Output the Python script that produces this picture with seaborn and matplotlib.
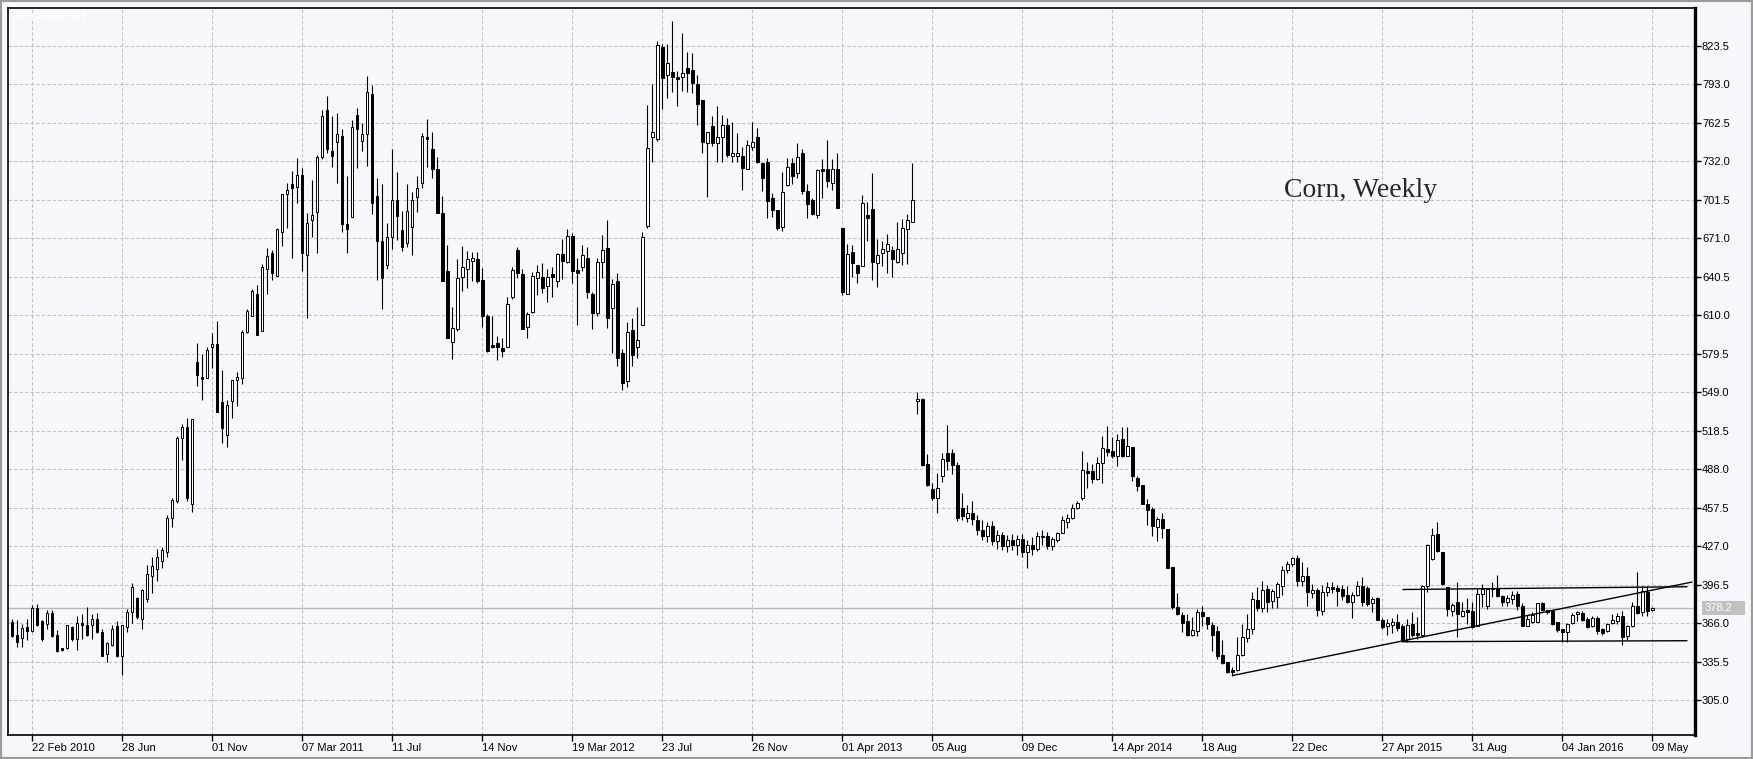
import numpy as np
import pandas as pd
import matplotlib
matplotlib.use("Agg")
import matplotlib.pyplot as plt
import matplotlib.transforms as mtransforms
from matplotlib.patches import Rectangle
import seaborn as sns

# weekly corn candles, first bar is the week of 25 Jan 2010, last 09 May 2016
first_week = "2010-01-25"

opens = [
    366.5, 356.5, 353.8, 362.5, 359.8, 377.7, 367.7, 365.1, 373.7, 356.5,
    346.2, 346.5, 363.0, 353.3, 365.9, 364.3, 364.3, 369.0, 359.0, 341.5,
    348.9, 363.8, 339.6, 362.5, 375.0, 386.0, 369.0, 385.2, 403.6, 409.0,
    415.0, 422.0, 449.4, 462.6, 512.8, 521.6, 460.5, 573.1, 561.2, 560.4,
    585.0, 587.4, 541.4, 515.2, 541.9, 558.8, 560.4, 596.6, 609.3, 626.5,
    597.4, 646.8, 659.1, 641.4, 676.3, 705.9, 713.8, 712.0, 721.2, 657.8,
    685.5, 692.1, 735.2, 772.8, 740.2, 747.6, 752.1, 682.4, 688.2, 768.8,
    748.4, 753.5, 785.4, 704.6, 668.9, 649.9, 671.8, 701.4, 677.6, 667.6,
    680.2, 703.5, 714.6, 751.1, 741.8, 725.7, 690.8, 645.1, 589.1, 598.8,
    640.6, 646.4, 653.3, 654.4, 638.0, 609.4, 586.4, 587.7, 583.8, 585.1,
    624.2, 661.7, 642.5, 600.5, 612.9, 639.3, 640.7, 633.5, 642.5, 637.5,
    658.6, 652.6, 672.9, 645.9, 648.6, 655.2, 626.9, 612.1, 652.0, 663.1,
    615.6, 637.5, 580.0, 558.0, 598.4, 584.6, 602.3, 680.8, 751.1, 749.5,
    822.5, 800.6, 802.7, 798.7, 798.7, 805.9, 804.5, 793.4, 780.7, 746.4,
    760.1, 746.4, 751.1, 760.9, 736.3, 736.6, 736.3, 725.8, 743.7, 751.1,
    730.5, 731.3, 702.8, 693.5, 679.8, 713.4, 730.5, 723.1, 738.5, 708.6,
    701.2, 689.6, 725.8, 726.3, 715.2, 725.8, 679.0, 627.2, 660.5, 649.7,
    649.1, 689.3, 694.1, 651.8, 659.1, 661.0, 661.6, 652.3, 659.7, 678.7,
    684.0, 542.1, 544.0, 491.9, 472.6, 465.5, 482.6, 501.1, 501.1, 491.1,
    457.5, 449.6, 453.0, 448.0, 440.0, 435.0, 443.0, 431.0, 436.0, 427.0,
    432.0, 428.0, 433.0, 422.0, 428.0, 425.0, 435.0, 434.8, 427.4, 432.2,
    437.5, 446.0, 449.1, 457.0, 465.2, 486.6, 486.4, 480.3, 492.7, 503.8,
    502.5, 498.3, 512.0, 498.8, 505.4, 481.1, 475.5, 460.5, 456.5, 442.0,
    448.6, 440.6, 410.2, 378.5, 372.4, 368.0, 356.9, 360.0, 374.6, 370.6,
    364.5, 360.0, 340.7, 335.4, 328.8, 329.1, 340.7, 353.9, 361.4, 384.3,
    377.7, 393.0, 383.8, 386.5, 395.2, 408.1, 412.9, 417.4, 399.1, 403.6,
    389.9, 392.5, 375.8, 390.9, 394.3, 393.5, 393.0, 388.2, 382.4, 388.2,
    395.6, 393.5, 381.9, 385.6, 368.7, 363.4, 364.5, 367.1, 363.9, 353.4,
    365.2, 358.1, 356.5, 395.6, 416.8, 436.6, 422.1, 394.3, 375.8, 382.4,
    371.8, 376.6, 375.8, 363.9, 389.0, 379.3, 393.5, 393.5, 387.2, 382.9,
    385.1, 389.0, 379.3, 363.9, 367.1, 367.1, 381.9, 376.6, 375.8, 366.6,
    361.2, 359.2, 366.0, 373.2, 374.0, 369.2, 363.4, 369.7, 361.2, 360.0,
    366.0, 367.9, 371.8, 355.5, 363.9, 379.3, 374.5, 390.9, 376.0,
]

highs = [
    369.5, 368.2, 365.0, 369.0, 380.0, 380.8, 368.5, 376.3, 376.3, 360.6,
    346.6, 364.8, 363.8, 371.6, 372.9, 379.0, 372.9, 373.7, 361.2, 350.7,
    364.3, 367.7, 364.3, 377.4, 397.8, 386.8, 393.1, 412.0, 418.0, 425.0,
    426.0, 451.5, 465.3, 514.0, 524.2, 528.7, 527.9, 588.2, 579.7, 585.0,
    595.6, 605.3, 567.0, 543.2, 559.1, 565.2, 598.7, 614.6, 630.5, 634.4,
    650.3, 663.0, 661.7, 679.5, 705.9, 714.6, 724.4, 734.4, 726.5, 690.8,
    717.3, 737.1, 772.8, 783.9, 768.0, 770.6, 757.4, 720.4, 764.8, 774.1,
    762.2, 799.7, 792.6, 718.6, 714.1, 683.4, 741.6, 723.3, 692.7, 714.1,
    707.5, 720.4, 754.3, 765.6, 755.6, 735.8, 704.6, 665.7, 616.3, 654.4,
    664.9, 661.2, 659.9, 660.4, 647.2, 611.0, 609.4, 593.6, 592.2, 624.2,
    648.5, 663.9, 647.0, 612.9, 644.6, 649.9, 651.2, 646.5, 648.6, 659.7,
    670.3, 678.5, 675.0, 655.2, 665.8, 663.9, 628.8, 655.2, 673.7, 685.6,
    638.5, 643.8, 583.0, 605.0, 607.6, 616.3, 676.3, 776.8, 793.4, 827.8,
    825.0, 825.1, 843.4, 804.0, 834.1, 819.1, 818.3, 800.6, 780.7, 755.6,
    768.0, 776.0, 768.8, 766.2, 763.6, 754.8, 743.7, 749.0, 763.6, 758.3,
    731.8, 734.5, 706.7, 693.5, 723.4, 735.0, 735.0, 746.4, 742.2, 713.9,
    703.3, 726.3, 733.7, 749.0, 734.2, 738.5, 679.0, 666.8, 665.5, 649.7,
    705.2, 699.9, 722.6, 670.3, 669.0, 674.2, 665.0, 684.0, 686.1, 690.1,
    730.5, 549.5, 544.7, 499.8, 477.3, 485.3, 501.1, 522.8, 504.3, 493.7,
    469.4, 459.4, 462.8, 452.0, 448.0, 446.0, 447.0, 440.0, 438.0, 436.0,
    437.0, 436.0, 437.0, 432.0, 434.0, 438.0, 440.0, 438.0, 434.0, 438.5,
    450.7, 452.5, 460.5, 463.1, 502.7, 493.5, 492.2, 497.5, 514.1, 522.0,
    513.8, 516.0, 521.2, 521.2, 505.4, 482.4, 475.5, 464.4, 457.8, 449.9,
    453.3, 440.6, 410.2, 389.9, 374.6, 373.2, 370.6, 377.2, 379.3, 370.6,
    366.6, 364.0, 352.9, 335.4, 330.9, 355.3, 365.3, 373.2, 390.4, 394.4,
    399.7, 396.2, 393.0, 398.9, 411.6, 415.5, 418.7, 420.0, 414.2, 410.2,
    397.0, 393.6, 396.2, 398.3, 398.3, 396.2, 396.2, 395.6, 390.4, 399.6,
    402.2, 395.6, 386.4, 386.4, 369.7, 369.2, 369.7, 373.2, 365.2, 369.2,
    374.5, 370.5, 396.2, 428.7, 441.1, 445.9, 422.1, 394.3, 381.9, 398.8,
    382.9, 385.6, 382.9, 393.0, 397.0, 393.5, 398.3, 404.1, 388.2, 388.2,
    391.7, 391.7, 381.9, 372.4, 374.5, 381.9, 382.9, 376.6, 376.6, 367.1,
    361.2, 366.0, 374.0, 375.8, 375.8, 370.5, 371.8, 371.8, 361.8, 366.0,
    373.2, 374.0, 375.8, 364.4, 382.9, 406.2, 395.6, 395.1, 379.0,
]

lows = [
    354.6, 347.3, 347.3, 352.8, 359.0, 363.8, 352.0, 361.2, 354.6, 343.4,
    344.1, 345.4, 352.0, 345.0, 353.3, 356.0, 353.3, 358.0, 339.6, 335.0,
    348.1, 339.4, 324.5, 359.0, 366.0, 369.5, 361.2, 383.0, 390.0, 399.0,
    410.0, 418.0, 442.0, 461.0, 495.1, 463.0, 453.9, 553.8, 542.7, 560.4,
    568.3, 533.2, 508.9, 505.7, 528.7, 537.9, 555.4, 596.1, 609.3, 594.2,
    597.4, 626.5, 638.0, 641.4, 665.2, 679.5, 655.7, 699.3, 645.4, 607.6,
    672.3, 659.1, 733.6, 738.9, 727.8, 714.6, 676.3, 659.1, 688.2, 726.5,
    740.5, 728.4, 690.3, 638.0, 614.7, 646.7, 662.5, 669.7, 661.2, 664.4,
    657.8, 692.1, 710.6, 727.3, 719.1, 691.4, 637.4, 591.7, 575.0, 597.8,
    629.5, 631.4, 637.4, 635.8, 600.9, 581.1, 583.8, 574.5, 577.2, 585.1,
    622.6, 639.3, 598.8, 591.8, 611.6, 626.1, 627.4, 620.8, 624.8, 632.2,
    638.6, 651.2, 635.9, 602.4, 645.4, 623.5, 598.9, 609.5, 639.3, 599.7,
    579.9, 570.0, 551.0, 553.0, 570.0, 575.9, 602.3, 679.0, 731.8, 748.5,
    773.3, 782.1, 787.3, 776.2, 788.1, 787.3, 786.6, 760.9, 738.5, 704.1,
    744.3, 731.8, 731.8, 735.8, 731.8, 731.8, 709.4, 725.8, 741.1, 730.5,
    708.9, 686.9, 688.2, 677.7, 677.1, 712.6, 713.9, 719.2, 706.5, 687.5,
    689.3, 687.5, 703.3, 712.0, 709.4, 694.9, 625.9, 627.2, 640.7, 635.4,
    649.1, 669.0, 638.0, 632.7, 649.1, 643.3, 640.4, 651.8, 649.9, 650.5,
    684.0, 531.5, 490.6, 474.7, 463.6, 453.6, 477.9, 487.4, 484.0, 447.0,
    448.0, 446.0, 444.0, 436.0, 432.0, 430.0, 428.0, 425.0, 424.0, 422.0,
    424.0, 420.0, 418.0, 410.0, 420.0, 423.0, 428.0, 424.8, 424.2, 430.6,
    437.2, 441.2, 448.6, 456.5, 463.9, 473.1, 477.1, 479.7, 477.1, 498.3,
    496.7, 490.3, 497.5, 498.3, 479.0, 471.0, 460.5, 443.8, 435.4, 431.4,
    433.2, 409.5, 377.2, 372.4, 359.2, 356.1, 356.1, 355.5, 364.0, 361.4,
    344.2, 337.6, 333.6, 326.5, 324.4, 328.3, 339.7, 350.8, 357.4, 375.9,
    375.1, 375.1, 377.7, 377.7, 388.3, 405.8, 411.6, 395.2, 395.7, 379.9,
    385.7, 371.4, 372.6, 387.7, 389.8, 379.3, 384.5, 381.9, 369.7, 387.7,
    379.8, 379.3, 375.0, 368.7, 361.3, 356.5, 358.1, 360.0, 350.7, 350.7,
    354.7, 353.4, 354.7, 390.4, 416.3, 422.1, 396.2, 371.3, 371.3, 354.7,
    370.5, 365.2, 361.8, 363.4, 378.5, 377.1, 386.4, 386.4, 379.8, 379.8,
    381.1, 376.6, 363.4, 363.4, 366.0, 366.6, 375.8, 373.2, 364.4, 359.2,
    350.7, 351.2, 365.2, 367.9, 367.9, 361.8, 362.6, 357.3, 356.5, 358.6,
    365.2, 365.2, 348.6, 352.8, 362.6, 373.2, 371.3, 371.3, 375.5,
]

closes = [
    356.0, 351.2, 361.7, 359.8, 377.7, 364.6, 353.3, 374.2, 356.0, 344.1,
    344.9, 364.3, 353.3, 366.4, 364.8, 356.5, 369.0, 359.0, 340.2, 349.9,
    361.2, 340.2, 364.3, 375.0, 394.7, 371.1, 392.6, 405.1, 411.4, 418.0,
    424.0, 449.4, 463.9, 512.8, 521.6, 465.3, 527.9, 562.5, 559.6, 582.1,
    587.4, 533.2, 520.8, 538.5, 559.1, 560.7, 596.4, 613.8, 628.9, 594.2,
    648.4, 657.4, 643.2, 678.1, 705.9, 709.3, 711.2, 721.2, 659.1, 682.9,
    689.5, 735.2, 768.0, 741.6, 736.5, 753.7, 682.1, 678.1, 759.0, 757.7,
    753.7, 786.8, 699.3, 668.9, 639.8, 671.8, 701.4, 689.0, 664.4, 692.7,
    701.4, 710.6, 752.1, 749.5, 725.7, 691.4, 637.4, 591.7, 599.6, 639.3,
    648.5, 654.4, 655.1, 637.4, 609.4, 581.9, 585.1, 584.6, 581.9, 618.7,
    645.9, 643.2, 598.8, 611.0, 641.2, 644.1, 631.4, 640.7, 640.2, 658.6,
    653.3, 672.9, 645.4, 643.3, 657.8, 628.8, 611.6, 652.6, 661.8, 607.6,
    634.8, 576.0, 556.0, 597.0, 578.6, 590.6, 671.9, 742.4, 755.1, 824.3,
    797.9, 809.8, 799.3, 797.7, 801.9, 802.4, 794.5, 777.3, 747.7, 755.6,
    746.9, 751.7, 760.9, 737.1, 739.0, 738.5, 726.6, 745.1, 747.2, 731.8,
    718.6, 700.9, 693.5, 679.0, 708.1, 727.9, 720.5, 735.8, 708.6, 698.0,
    690.1, 725.0, 724.2, 716.5, 726.3, 694.9, 628.5, 658.9, 651.3, 643.9,
    699.4, 686.9, 652.3, 657.6, 662.4, 666.3, 654.4, 662.4, 679.5, 685.6,
    701.5, 544.0, 491.1, 475.2, 465.5, 473.4, 495.8, 494.5, 491.1, 449.6,
    451.0, 453.6, 448.3, 440.0, 435.0, 443.0, 431.0, 436.0, 427.0, 432.0,
    428.0, 433.0, 422.0, 428.0, 425.0, 435.0, 434.0, 427.4, 432.7, 437.5,
    448.0, 449.1, 457.0, 461.0, 487.4, 485.3, 480.3, 492.7, 504.6, 501.4,
    498.8, 511.2, 498.8, 506.2, 482.9, 475.0, 460.5, 456.0, 443.3, 448.6,
    441.2, 409.5, 378.5, 373.2, 366.1, 356.6, 360.6, 374.6, 371.4, 365.3,
    356.6, 340.2, 334.4, 327.0, 327.5, 340.7, 354.7, 361.4, 385.1, 377.7,
    392.3, 383.0, 391.7, 397.0, 408.1, 412.9, 417.6, 399.1, 403.6, 390.4,
    392.5, 376.7, 390.9, 394.3, 393.0, 391.7, 387.2, 382.4, 388.2, 395.6,
    382.4, 381.1, 385.1, 368.7, 362.6, 366.0, 367.1, 361.8, 352.0, 364.7,
    356.5, 356.5, 395.6, 427.9, 435.8, 423.4, 397.0, 377.1, 380.3, 373.2,
    375.8, 374.5, 362.6, 389.0, 393.0, 393.0, 393.0, 387.2, 382.9, 385.6,
    388.5, 379.3, 363.9, 369.2, 372.4, 381.9, 376.6, 374.5, 365.2, 360.7,
    359.2, 365.2, 372.4, 375.0, 368.7, 362.6, 369.7, 360.0, 358.1, 365.2,
    368.7, 371.8, 354.7, 363.9, 379.8, 373.7, 391.7, 375.8, 378.2,
]

last_price = 378.2

tick_dates = [
    "2010-02-22", "2010-06-28", "2010-11-01", "2011-03-07", "2011-07-11",
    "2011-11-14", "2012-03-19", "2012-07-23", "2012-11-26", "2013-04-01",
    "2013-08-05", "2013-12-09", "2014-04-14", "2014-08-18", "2014-12-22",
    "2015-04-27", "2015-08-31", "2016-01-04", "2016-05-09",
]
tick_labels = [
    "22 Feb 2010", "28 Jun", "01 Nov", "07 Mar 2011", "11 Jul",
    "14 Nov", "19 Mar 2012", "23 Jul", "26 Nov", "01 Apr 2013",
    "05 Aug", "09 Dec", "14 Apr 2014", "18 Aug", "22 Dec",
    "27 Apr 2015", "31 Aug", "04 Jan 2016", "09 May",
]
price_ticks = [305.0, 335.5, 366.0, 396.5, 427.0, 457.5, 488.0, 518.5, 549.0,
               579.5, 610.0, 640.5, 671.0, 701.5, 732.0, 762.5, 793.0, 823.5]

# lines drawn by hand on the chart: (bar index, price)
trend_x = [244, 335.9]
trend_y = [324.4, 398.5]
resist_x = [278.1, 334.9]
resist_y = [392.6, 394.8]
support_x = [278.1, 334.9]
support_y = [351.2, 352.0]


def main():
    sns.set_style("white")
    plt.rcParams["font.family"] = ["Liberation Sans", "DejaVu Sans"]

    weeks = pd.date_range(first_week, periods=len(closes), freq="7D")
    df = pd.DataFrame({"week": np.arange(len(closes)), "open": opens,
                       "high": highs, "low": lows, "close": closes})
    df["high"] = df[["high", "open", "close"]].max(axis=1)
    df["low"] = df[["low", "open", "close"]].min(axis=1)
    df["up"] = df["close"] >= df["open"]
    df["body_lo"] = df[["open", "close"]].min(axis=1)
    df["body_h"] = (df["close"] - df["open"]).abs().clip(lower=0.8)
    tick_pos = [weeks.get_loc(pd.Timestamp(d)) for d in tick_dates]

    W, H = 1753, 759
    bg = "#F6F7FC"
    fig = plt.figure(figsize=(W / 100, H / 100), dpi=100, facecolor=bg)
    ax = fig.add_axes([8.3 / W, 24 / H, 1686.7 / W, 726.7 / H])
    ax.set_facecolor(bg)

    ax.axhline(last_price, color="#B8B8B8", lw=1.0, zorder=1)
    ax.vlines(df["week"], df["low"], df["high"], color="black", lw=0.8, zorder=2)
    ax.bar(df["week"], df["body_h"], bottom=df["body_lo"], width=0.46,
           color=np.where(df["up"], "white", "black"), edgecolor="black",
           linewidth=0.7, zorder=3)

    for xs, ys in [(trend_x, trend_y), (resist_x, resist_y), (support_x, support_y)]:
        sns.lineplot(x=xs, y=ys, ax=ax, color="black", lw=1.0, zorder=4)

    ax.set_xlim(-0.8, 336.5)
    ax.set_ylim(277.25, 853.4)
    ax.set_xticks(tick_pos)
    ax.set_xticklabels(tick_labels)
    for lbl in ax.get_xticklabels():
        lbl.set_horizontalalignment("left")
    ax.set_yticks(price_ticks)
    ax.set_yticklabels([f"{v:.1f}" for v in price_ticks])
    ax.tick_params(axis="y", left=False, right=True, labelleft=False,
                   labelright=True, length=4, width=1, pad=1, labelsize=8,
                   colors="black")
    ax.tick_params(axis="x", bottom=True, length=4, width=1, pad=2,
                   labelsize=8, colors="black")
    ax.grid(True, color="#C0C0C0", linestyle=(0, (3, 2)), linewidth=0.8)
    ax.set_axisbelow(True)
    for side in ["left", "top", "bottom"]:
        ax.spines[side].set_color("black")
        ax.spines[side].set_linewidth(1.2)
    ax.spines["right"].set_color("black")
    ax.spines["right"].set_linewidth(2.4)

    # current price marker on the price scale
    trans = mtransforms.blended_transform_factory(ax.transAxes, ax.transData)
    ax.add_patch(Rectangle((1.004, last_price - 5.6), 0.0256, 11.2,
                           transform=trans, clip_on=False,
                           facecolor="#C0C0C0", edgecolor="none"))
    ax.text(1.0055, last_price, f"{last_price:.1f}", transform=trans,
            color="white", fontsize=8, va="center", ha="left")

    ax.text(269.7, 708.6, "Corn, Weekly", fontsize=20,
            family=["Liberation Serif", "DejaVu Serif"], ha="center", va="center")
    ax.text(0.003, 0.995, "#C-CORN, W1", transform=ax.transAxes,
            color="white", fontsize=8, va="top", ha="left")

    fig.add_artist(Rectangle((0, 0), 1, 1, transform=fig.transFigure,
                             fill=False, edgecolor="#9A9A9A", lw=3))

    fig.savefig("out.png", dpi=100, facecolor=bg)


if __name__ == "__main__":
    main()
